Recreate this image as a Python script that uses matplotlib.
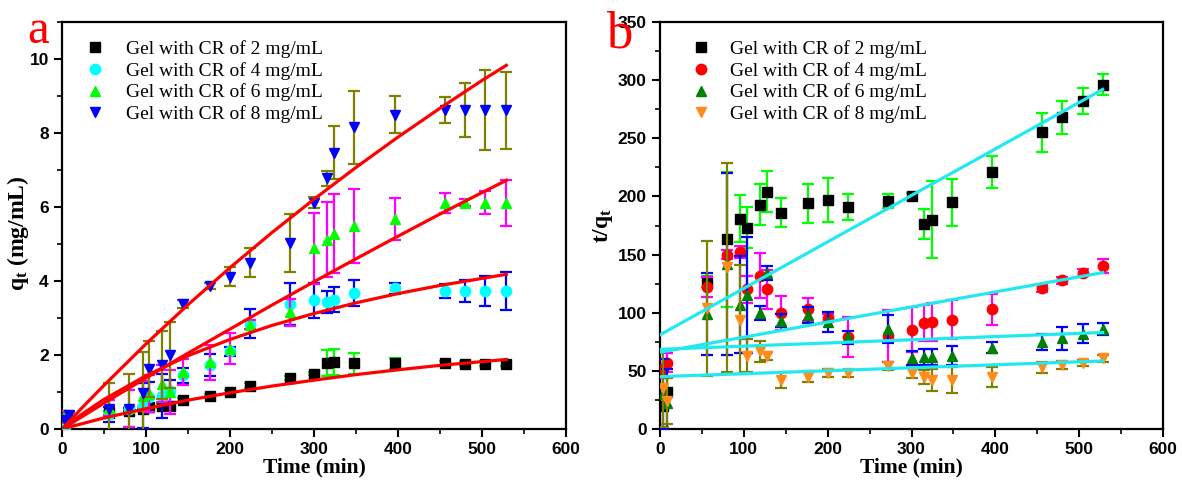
import matplotlib
matplotlib.use('Agg')
import matplotlib.pyplot as plt
from matplotlib.ticker import MultipleLocator

plt.rcParams['mathtext.fontset'] = 'custom'
plt.rcParams['mathtext.rm'] = 'Liberation Serif'
plt.rcParams['mathtext.bf'] = 'Liberation Serif:bold'
plt.rcParams['mathtext.it'] = 'Liberation Serif:italic'

# sampling times (min)
time = [3, 8, 56, 80, 96, 104, 119, 128, 144, 176, 200, 224, 272, 300, 315, 324, 348, 396, 456, 480, 504, 528]
labels = ['Gel with CR of 2 mg/mL', 'Gel with CR of 4 mg/mL',
          'Gel with CR of 6 mg/mL', 'Gel with CR of 8 mg/mL']

# panel a: qt (mg/mL)
qt_2 = [0.25, 0.25, 0.44, 0.49, 0.53, 0.60, 0.62, 0.63, 0.78, 0.90, 1.00, 1.17, 1.38, 1.50, 1.78, 1.80, 1.78, 1.78, 1.78, 1.77, 1.77, 1.77]
qt_2_err = [0.2, 0.05, 0.05, 0.05, 0.05, 0.05, 0.05, 0.05, 0.05, 0.05, 0.05, 0.06, 0.06, 0.05, 0.35, 0.35, 0.28, 0.15, 0.06, 0.06, 0.06, 0.06]
qt_4 = [0.05, 0.2, 0.40, 0.53, 0.63, 0.87, 0.90, 1.02, 1.45, 1.72, 2.10, 2.85, 3.38, 3.48, 3.44, 3.50, 3.68, 3.80, 3.73, 3.73, 3.73, 3.73]
qt_4_err = [0.1, 0.1, 0.2, 0.05, 0.6, 0.4, 0.6, 0.3, 0.2, 0.3, 0.12, 0.4, 0.57, 0.47, 0.3, 0.34, 0.35, 0.14, 0.18, 0.3, 0.4, 0.52]
qt_6 = [0.4, 0.35, 0.57, 0.56, 0.90, 0.95, 1.22, 1.00, 1.55, 1.80, 2.17, 2.82, 3.15, 4.88, 5.12, 5.28, 5.50, 5.68, 6.12, 6.12, 6.12, 6.12]
qt_6_err = [0.1, 0.1, 0.22, 0.5, 0.4, 0.5, 0.5, 0.6, 0.35, 0.48, 0.42, 0.12, 0.37, 0.97, 1.02, 1.06, 1.0, 0.57, 0.27, 0.1, 0.3, 0.62]
qt_8 = [0.25, 0.37, 0.55, 0.55, 0.98, 1.62, 1.73, 2.00, 3.38, 3.87, 4.12, 4.50, 5.02, 6.12, 6.78, 7.47, 8.15, 8.50, 8.62, 8.62, 8.62, 8.62]
qt_8_err = [0.1, 0.1, 0.7, 0.93, 1.1, 0.75, 0.93, 0.9, 0.12, 0.08, 0.25, 0.4, 0.78, 0.15, 0.2, 0.72, 0.98, 0.5, 0.35, 0.73, 1.09, 1.04]

# panel a: fitted curves
fit_time = [0, 25, 50, 100, 150, 200, 250, 300, 350, 400, 450, 500, 529]
fit_q2 = [0, 0.15, 0.30, 0.55, 0.78, 0.98, 1.16, 1.32, 1.47, 1.60, 1.72, 1.82, 1.88]
fit_q4 = [0, 0.42, 0.80, 1.44, 1.98, 2.42, 2.80, 3.12, 3.41, 3.66, 3.88, 4.07, 4.18]
fit_q6 = [0, 0.35, 0.70, 1.38, 2.05, 2.70, 3.35, 3.98, 4.60, 5.21, 5.81, 6.39, 6.72]
fit_q8 = [0, 0.60, 1.18, 2.30, 3.36, 4.36, 5.31, 6.21, 7.07, 7.89, 8.67, 9.42, 9.83]

# panel b: t/qt
tq_2 = [20, 32, 127, 163, 181, 173, 193, 204, 186, 194, 197, 191, 196, 200, 176, 180, 195, 221, 255, 268, 282, 296]
tq_2_err = [3, 3, 5, 58, 20, 17.5, 17.5, 17.5, 12.5, 17, 19, 11.5, 6, 3, 13, 33, 20, 14, 17, 14, 11.5, 9]
tq_4 = [52, 57, 122, 150, 152, 120, 132, 120, 100, 103, 95.5, 79, 80, 85.5, 91, 92, 94, 103, 121, 128, 134.5, 140.5]
tq_4_err = [8, 8, 8.5, 4, 5, 11.5, 19, 16.5, 14.5, 10, 3.5, 17, 22, 19, 15.5, 16.5, 17, 13.5, 3, 3, 3, 6]
tq_6 = [30, 22, 99, 142, 107, 115, 100, 134, 93, 98, 92, 79, 86, 61, 62, 62, 63, 70, 75, 78, 82, 86]
tq_6_err = [30, 30, 35, 78, 42, 50, 6, 6, 5.5, 6.5, 9, 5.5, 12, 6, 7, 7, 8, 4.5, 7, 10, 8, 5]
tq_8 = [35, 24, 104, 139, 94, 63, 67, 63, 42, 45, 48, 48, 54, 48.5, 45, 42, 42, 45, 53, 55, 57, 61]
tq_8_err = [33, 20, 58, 90, 47, 14, 9, 3.5, 7, 4.5, 3.5, 3, 3.5, 5, 6, 9.5, 11, 8.5, 5, 3.5, 2.5, 3]

# panel b: linear fits (start, end)
line_time = [0, 528]
line_2 = [81, 292]
line_4 = [66, 134.5]
line_6 = [68.5, 83]
line_8 = [45, 58.5]

W, H = 1182, 483
fig = plt.figure(figsize=(W / 100, H / 100), dpi=100)
ax1 = fig.add_axes([62 / W, 1 - 429 / H, (566 - 62) / W, (429 - 22) / H])
ax2 = fig.add_axes([660 / W, 1 - 429 / H, (1163 - 660) / W, (429 - 22) / H])

serif = 'Liberation Serif'
sans = 'Liberation Sans'


def draw_series(ax, y, err, marker, color, ecolor, z):
    c = ax.errorbar(time, y, yerr=err, fmt=marker, color=color, ms=7.5, mec=color,
                    ecolor=ecolor, elinewidth=1.6, capsize=4, capthick=1.6, zorder=z)
    return c[0]


# panel a
h = []
h.append(draw_series(ax1, qt_2, qt_2_err, 's', 'black', '#00ff00', 2))
h.append(draw_series(ax1, qt_4, qt_4_err, 'o', '#00ffff', '#0000ff', 3))
h.append(draw_series(ax1, qt_6, qt_6_err, '^', '#00ff00', '#ff00ff', 4))
h.append(draw_series(ax1, qt_8, qt_8_err, 'v', '#0000ff', '#808000', 5))
for fq in [fit_q2, fit_q4, fit_q6, fit_q8]:
    ax1.plot(fit_time, fq, color='#ff0000', lw=2.3, zorder=6)
ax1.set_xlim(0, 600)
ax1.set_ylim(0, 11)
ax1.yaxis.set_major_locator(MultipleLocator(2))
ax1.yaxis.set_minor_locator(MultipleLocator(1))
ax1.set_ylabel(r'$\mathbf{q_t}$ (mg/mL)', family=serif, fontweight='bold', fontsize=17)
ax1.yaxis.set_label_coords(-0.062, 0.48)
ax1.legend(h, labels, loc='upper left', bbox_to_anchor=(0.031, 0.975), frameon=False,
           prop={'family': serif, 'size': 14}, handlelength=1.0, handletextpad=1.1,
           labelspacing=0.2, borderaxespad=0)

# panel b
h = []
h.append(draw_series(ax2, tq_2, tq_2_err, 's', 'black', '#00ff00', 2))
h.append(draw_series(ax2, tq_4, tq_4_err, 'o', '#ff0000', '#ff00ff', 3))
h.append(draw_series(ax2, tq_6, tq_6_err, '^', '#008000', '#0000ff', 4))
h.append(draw_series(ax2, tq_8, tq_8_err, 'v', '#ff8c1a', '#808000', 5))
for ly in [line_2, line_4, line_6, line_8]:
    ax2.plot(line_time, ly, color='#22e8f0', lw=2.3, zorder=6)
ax2.set_xlim(0, 600)
ax2.set_ylim(0, 350)
ax2.yaxis.set_major_locator(MultipleLocator(50))
ax2.yaxis.set_minor_locator(MultipleLocator(25))
ax2.set_ylabel(r'$\mathbf{t/q_t}$', family=serif, fontweight='bold', fontsize=17, labelpad=2)
ax2.legend(h, labels, loc='upper left', bbox_to_anchor=(0.047, 0.975), frameon=False,
           prop={'family': serif, 'size': 14}, handlelength=1.0, handletextpad=1.0,
           labelspacing=0.2, borderaxespad=0)

for ax in (ax1, ax2):
    ax.xaxis.set_major_locator(MultipleLocator(100))
    ax.xaxis.set_minor_locator(MultipleLocator(50))
    ax.set_xlabel('Time (min)', family=serif, fontweight='bold', fontsize=15.5, labelpad=0)
    ax.tick_params(which='major', direction='out', length=6, width=1.5, top=False, right=False)
    ax.tick_params(which='minor', direction='out', length=3.5, width=1.2, top=False, right=False)
    for s in ax.spines.values():
        s.set_linewidth(1.6)
    for lab in ax.get_xticklabels() + ax.get_yticklabels():
        lab.set_family(sans)
        lab.set_fontweight('bold')
        lab.set_fontsize(12.5)

fig.text(27 / W, 1 - 43 / H, 'a', color='red', fontsize=35, family=serif, va='baseline')
fig.text(606 / W, 1 - 48 / H, 'b', color='red', fontsize=38, family=serif, va='baseline')

fig.savefig('out.png', dpi=100)
